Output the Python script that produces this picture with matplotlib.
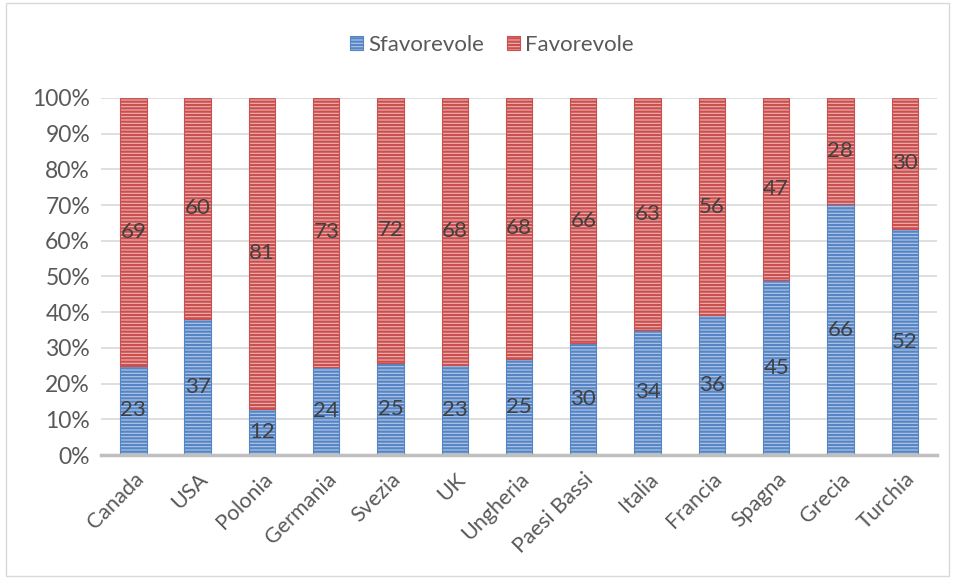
import numpy as np
import matplotlib.pyplot as plt
from matplotlib.patches import Rectangle
from matplotlib.ticker import PercentFormatter

plt.rcParams['font.family'] = ['Lato', 'DejaVu Sans']
plt.rcParams['hatch.linewidth'] = 1.6

paesi = ['Canada', 'USA', 'Polonia', 'Germania', 'Svezia', 'UK', 'Ungheria',
         'Paesi Bassi', 'Italia', 'Francia', 'Spagna', 'Grecia', 'Turchia']
sfavorevole = [23, 37, 12, 24, 25, 23, 25, 30, 34, 36, 45, 66, 52]
favorevole = [69, 60, 81, 73, 72, 68, 68, 66, 63, 56, 47, 28, 30]

sf = np.array(sfavorevole, dtype=float)
fa = np.array(favorevole, dtype=float)
tot = sf + fa
sf_pct = sf / tot * 100
fa_pct = fa / tot * 100

blu_fill, blu_line = '#b4c8e6', '#5585c5'
ros_fill, ros_line = '#eeb3b2', '#c9504e'

fig = plt.figure(figsize=(9.55, 5.79), dpi=100)
ax = fig.add_axes([0.106, 0.214, 0.875, 0.617])

x = np.arange(len(paesi))
w = 0.41
b1 = ax.bar(x, sf_pct, w, color=blu_fill, edgecolor=blu_line, hatch='-----',
            linewidth=0.8, label='Sfavorevole', zorder=3)
b2 = ax.bar(x, fa_pct, w, bottom=sf_pct, color=ros_fill, edgecolor=ros_line,
            hatch='-----', linewidth=0.8, label='Favorevole', zorder=3)

for i in range(len(paesi)):
    ax.text(x[i], sf_pct[i] / 2, f'{sfavorevole[i]}', ha='center', va='center',
            fontsize=16, color='#404040', zorder=4)
    ax.text(x[i], sf_pct[i] + fa_pct[i] / 2, f'{favorevole[i]}', ha='center',
            va='center', fontsize=16, color='#404040', zorder=4)

ax.set_xlim(-0.5, len(paesi) - 0.5)
ax.set_ylim(0, 100)
ax.set_yticks(np.arange(0, 101, 10))
ax.yaxis.set_major_formatter(PercentFormatter(decimals=0))
ax.grid(axis='y', color='#d9d9d9', linewidth=1.2, zorder=0)
ax.set_xticks(x)
ax.set_xticklabels(paesi, rotation=45, ha='right', rotation_mode='anchor')
ax.tick_params(axis='x', length=0, labelsize=15.5, colors='#595959', pad=10)
ax.tick_params(axis='y', length=0, labelsize=16.5, colors='#595959', pad=8)
for s in ['top', 'right', 'left']:
    ax.spines[s].set_visible(False)
ax.spines['bottom'].set_color('#bfbfbf')
ax.spines['bottom'].set_linewidth(2.5)
ax.spines['bottom'].set_zorder(5)

leg = fig.legend(handles=[b1, b2], loc='center', bbox_to_anchor=(0.515, 0.923),
                 ncol=2, frameon=False, fontsize=16, handlelength=0.6,
                 handleheight=0.6, handletextpad=0.25, columnspacing=1.0)
for t in leg.get_texts():
    t.set_color('#595959')

fig.patches.append(Rectangle((0.006, 0.006), 0.988, 0.988, transform=fig.transFigure,
                             fill=False, edgecolor='#d9d9d9', linewidth=1))

fig.savefig('out.png', dpi=100)
